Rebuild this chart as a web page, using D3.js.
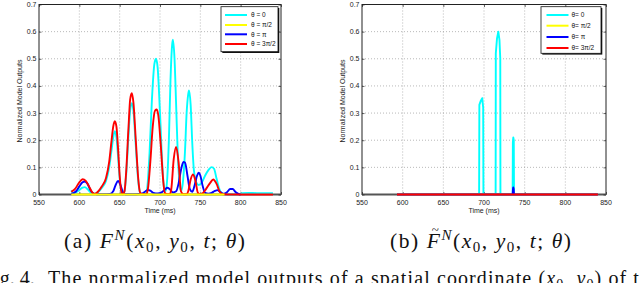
<!DOCTYPE html>
<html><head><meta charset="utf-8">
<script src="https://cdn.jsdelivr.net/npm/d3@7"></script>
<style>body{margin:0;background:#fff}svg{display:block}</style>
</head><body>
<script>
// ---------- data ----------
const xTicks = [550, 600, 650, 700, 750, 800, 850];
const yTicks = [0, 0.1, 0.2, 0.3, 0.4, 0.5, 0.6, 0.7];
const yTickLabels = ["0", "0.1", "0.2", "0.3", "0.4", "0.5", "0.6", "0.7"];
const legendLabelsA = ["\u03b8 = 0", "\u03b8 = \u03c0/2", "\u03b8 = \u03c0", "\u03b8 = 3\u03c0/2"];
const legendLabelsB = ["\u03b8= 0", "\u03b8= \u03c0/2", "\u03b8= \u03c0", "\u03b8= 3\u03c0/2"];
const seriesColors = ["#00ffff", "#ffff00", "#0000ff", "#ff0000"];

// panel (a): [time ms, normalized output]
const a_theta0 = [[590,0.015],[592,0.006],[596,0.008],[600,0.017],[604,0.025],[607,0.027],[610,0.02],[614,0.008],[618,0.002],[623,0.008],[628,0.025],[633,0.05],[637,0.1],[640,0.165],[642,0.21],[644,0.233],[646,0.21],[648,0.14],[650,0.06],[652,0.012],[654,0.002],[656,0.012],[658,0.07],[661,0.22],[663,0.31],[665,0.336],[667,0.31],[670,0.18],[673,0.05],[675,0.01],[677,0.001],[682,0.001],[684,0.02],[687,0.15],[690,0.35],[693,0.48],[695,0.5],[697,0.47],[700,0.3],[703,0.1],[705,0.025],[707,0.012],[709,0.06],[711,0.2],[713,0.42],[715,0.55],[716,0.57],[718,0.5],[720,0.33],[722,0.15],[724,0.05],[726,0.012],[728,0.035],[731,0.16],[733,0.3],[735,0.37],[736,0.383],[738,0.33],[740,0.19],[742,0.09],[745,0.045],[748,0.035],[752,0.045],[756,0.07],[760,0.09],[764,0.101],[767,0.095],[770,0.06],[773,0.025],[776,0.006],[780,0.001],[790,0],[798,0.001],[802,0.005],[810,0.006],[820,0.005],[830,0.005],[840,0.005]];
const a_thetaHalfPi = [[590,0],[780,0]];
const a_thetaPi = [[590,0.002],[596,0.012],[600,0.03],[604,0.045],[607,0.048],[610,0.04],[614,0.015],[618,0.003],[622,0.001],[630,0.001],[638,0.002],[642,0.012],[645,0.035],[648,0.05],[651,0.035],[654,0.008],[657,0.001],[670,0.001],[678,0.004],[682,0.012],[685,0.017],[688,0.014],[692,0.006],[697,0.004],[702,0.008],[706,0.018],[709,0.025],[712,0.02],[716,0.008],[720,0.012],[723,0.04],[726,0.09],[729,0.12],[731,0.118],[734,0.07],[737,0.02],[740,0.01],[743,0.035],[746,0.07],[748,0.08],[750,0.07],[753,0.03],[756,0.006],[760,0.003],[764,0.006],[768,0.013],[771,0.016],[775,0.009],[779,0.003],[783,0.008],[787,0.02],[790,0.02],[794,0.008],[798,0.001],[800,0]];
const a_theta3HalfPi = [[590,0.01],[595,0.022],[600,0.045],[604,0.056],[608,0.05],[612,0.03],[616,0.008],[619,0.002],[623,0.01],[628,0.03],[633,0.06],[637,0.12],[640,0.2],[642,0.25],[644,0.27],[646,0.25],[648,0.17],[650,0.07],[652,0.012],[654,0.001],[656,0.012],[658,0.08],[661,0.25],[663,0.35],[665,0.373],[667,0.34],[670,0.2],[673,0.06],[675,0.01],[677,0.001],[683,0.001],[685,0.02],[688,0.12],[691,0.25],[694,0.31],[696,0.313],[698,0.29],[701,0.18],[704,0.05],[706,0.006],[709,0.001],[712,0.001],[714,0.02],[717,0.13],[720,0.175],[723,0.12],[726,0.012],[729,0.001],[733,0.001],[735,0.012],[738,0.055],[741,0.074],[744,0.05],[747,0.006],[750,0.001],[753,0.005],[757,0.02],[762,0.042],[766,0.055],[770,0.04],[774,0.01],[778,0.001],[790,0],[840,0]];

// panel (b)
const b_theta0 = [[593,0],[694,0],[694.3,0.33],[696,0.345],[697.8,0.355],[699,0.32],[699.3,0],[714.3,0],[714.5,0.52],[716,0.575],[717.6,0.6],[719,0.57],[720,0.5],[720.2,0],[735.2,0],[735.5,0.19],[736,0.21],[736.6,0.2],[736.9,0],[840,0]];
const b_thetaHalfPi = [[593,0],[840,0]];
const b_thetaPi = [[593,0],[735.3,0],[735.6,0.02],[736,0.026],[736.5,0.02],[736.8,0],[840,0]];
const b_theta3HalfPi = [[593,0],[840,0]];

// ---------- drawing ----------
const svg = d3.select("body").append("svg").attr("width", 640).attr("height", 283);
svg.append("rect").attr("width", 640).attr("height", 283).attr("fill", "#fff");

const panels = [
  {x0: 39, x1: 281, series: [a_theta0, a_thetaHalfPi, a_thetaPi, a_theta3HalfPi], order: [0, 2, 3, 1], curve: d3.curveMonotoneX,
   legend: {x: 221, y: 6.7, w: 57, h: 45, rows: [15, 25, 34.3, 44], lx0: 225, lx1: 247, tx: 251}, labels: legendLabelsA},
  {x0: 362, x1: 606, series: [b_theta0, b_thetaHalfPi, b_thetaPi, b_theta3HalfPi], order: [0, 1, 2, 3], curve: d3.curveLinear,
   legend: {x: 541, y: 6.7, w: 60, h: 46.6, rows: [15, 25.7, 37, 48], lx0: 546.5, lx1: 568.5, tx: 571.5}, labels: legendLabelsB}
];
const yTop = 4.5, yBot = 194.5;
const tickFont = "'Liberation Sans', Arial, sans-serif";

panels.forEach(p => {
  const x = d3.scaleLinear().domain([550, 850]).range([p.x0, p.x1]);
  const y = d3.scaleLinear().domain([0, 0.7]).range([yBot, yTop]);
  const g = svg.append("g");

  // grid
  g.selectAll(".gx").data(xTicks.slice(1, -1)).join("line")
    .attr("x1", d => x(d)).attr("x2", d => x(d)).attr("y1", yTop).attr("y2", yBot)
    .attr("stroke", "#8a8a8a").attr("stroke-width", 0.6).attr("stroke-dasharray", "1,2");
  g.selectAll(".gy").data(yTicks.slice(1, -1)).join("line")
    .attr("x1", p.x0).attr("x2", p.x1).attr("y1", d => y(d)).attr("y2", d => y(d))
    .attr("stroke", "#8a8a8a").attr("stroke-width", 0.6).attr("stroke-dasharray", "1,2");

  // frame
  g.append("rect").attr("x", p.x0).attr("y", yTop).attr("width", p.x1 - p.x0).attr("height", yBot - yTop)
    .attr("fill", "none").attr("stroke", "#222").attr("stroke-width", 1);
  g.append("line").attr("x1", p.x0).attr("x2", p.x1).attr("y1", yBot).attr("y2", yBot)
    .attr("stroke", "#555").attr("stroke-width", 2);

  // inside ticks via d3 axes
  const axB = d3.axisTop(x).tickValues(xTicks).tickSize(2.5).tickFormat("");
  const axT = d3.axisBottom(x).tickValues(xTicks).tickSize(2.5).tickFormat("");
  const axL = d3.axisRight(y).tickValues(yTicks).tickSize(2.5).tickFormat("");
  const axR = d3.axisLeft(y).tickValues(yTicks).tickSize(2.5).tickFormat("");
  [[axB, `translate(0,${yBot})`], [axT, `translate(0,${yTop})`], [axL, `translate(${p.x0},0)`], [axR, `translate(${p.x1},0)`]].forEach(([ax, tr]) => {
    const a = g.append("g").attr("transform", tr).call(ax);
    a.select(".domain").remove();
    a.selectAll("line").attr("stroke", "#222").attr("stroke-width", 0.7);
  });

  // tick labels
  g.selectAll(".xl").data(xTicks).join("text")
    .attr("x", d => x(d)).attr("y", 205).attr("text-anchor", "middle")
    .attr("font-family", tickFont).attr("font-size", 7).attr("fill", "#222").text(d => d);
  g.selectAll(".yl").data(yTicks).join("text")
    .attr("x", p.x0 - 2.5).attr("y", d => y(d) + 2.5).attr("text-anchor", "end")
    .attr("font-family", tickFont).attr("font-size", 7).attr("fill", "#222").text((d, i) => yTickLabels[i]);
  g.append("text").attr("x", (p.x0 + p.x1) / 2).attr("y", 212.5).attr("text-anchor", "middle")
    .attr("font-family", tickFont).attr("font-size", 7).attr("fill", "#222").text("Time (ms)");
  g.append("text").attr("transform", `translate(${p.x0 - 17.5},101) rotate(-90)`).attr("text-anchor", "middle")
    .attr("font-family", tickFont).attr("font-size", 7).attr("fill", "#222").text("Normalized Model Outputs");

  // data lines
  const line = d3.line().x(d => x(d[0])).y(d => y(d[1])).curve(p.curve);
  p.order.forEach(i => {
    g.append("path").datum(p.series[i]).attr("d", line).attr("fill", "none")
      .attr("stroke", seriesColors[i]).attr("stroke-width", 1.9).attr("stroke-linejoin", "round");
  });

  // legend
  const L = p.legend;
  g.append("rect").attr("x", L.x + 1.3).attr("y", L.y + 1.3).attr("width", L.w).attr("height", L.h).attr("fill", "#111");
  g.append("rect").attr("x", L.x).attr("y", L.y).attr("width", L.w).attr("height", L.h)
    .attr("fill", "#fff").attr("stroke", "#111").attr("stroke-width", 0.8);
  p.labels.forEach((lab, i) => {
    g.append("line").attr("x1", L.lx0).attr("x2", L.lx1).attr("y1", L.rows[i]).attr("y2", L.rows[i])
      .attr("stroke", seriesColors[i]).attr("stroke-width", 2);
    g.append("text").attr("x", L.tx).attr("y", L.rows[i] + 2.4).attr("font-family", tickFont)
      .attr("font-size", 6.5).attr("fill", "#111").text(lab);
  });
});

// captions
const serif = "'Liberation Serif', 'Times New Roman', serif";
function caption(x0, label, tilde) {
  const t = svg.append("text").attr("x", x0).attr("y", 248).attr("font-family", serif).attr("font-size", 21.5)
    .attr("fill", "#111").attr("textLength", 181).attr("lengthAdjust", "spacing");
  t.append("tspan").text(label + " ");
  t.append("tspan").attr("font-style", "italic").text("F");
  t.append("tspan").attr("font-style", "italic").attr("font-size", 15).attr("dy", -8.5).text("N");
  t.append("tspan").attr("dy", 8.5).text("(");
  t.append("tspan").attr("font-style", "italic").text("x");
  t.append("tspan").attr("font-size", 15).attr("dy", 3.5).text("0");
  t.append("tspan").attr("dy", -3.5).text(", ");
  t.append("tspan").attr("font-style", "italic").text("y");
  t.append("tspan").attr("font-size", 15).attr("dy", 3.5).text("0");
  t.append("tspan").attr("dy", -3.5).text(", ");
  t.append("tspan").attr("font-style", "italic").text("t");
  t.append("tspan").text("; ");
  t.append("tspan").attr("font-style", "italic").text("\u03b8");
  t.append("tspan").text(")");
  if (tilde) {
    const idx = label.length + 1;
    const ext = t.node().getExtentOfChar(idx);
    svg.append("text").attr("x", ext.x + ext.width / 2 + 2).attr("y", 234).attr("text-anchor", "middle")
      .attr("font-family", serif).attr("font-size", 13).attr("fill", "#111").text("~");
  }
}
caption(64, "(a)", false);
caption(390, "(b)", true);

// figure caption line (cut off at the bottom)
const fc0 = svg.append("text").attr("x", -17).attr("y", 285).attr("font-family", serif).attr("font-size", 20).attr("fill", "#111");
fc0.append("tspan").text("Fig. 4.");
const fc = svg.append("text").attr("x", 48).attr("y", 285).attr("font-family", serif).attr("font-size", 20)
  .attr("fill", "#111").attr("textLength", 612).attr("lengthAdjust", "spacing");
fc.append("tspan").text("The normalized model outputs of a spatial coordinate (");
fc.append("tspan").attr("font-style", "italic").text("x");
fc.append("tspan").attr("font-size", 14).attr("dy", 3.5).text("0");
fc.append("tspan").attr("dy", -3.5).text(", ");
fc.append("tspan").attr("font-style", "italic").text("y");
fc.append("tspan").attr("font-size", 14).attr("dy", 3.5).text("0");
fc.append("tspan").attr("dy", -3.5).text(") of the");
</script>
</body></html>
